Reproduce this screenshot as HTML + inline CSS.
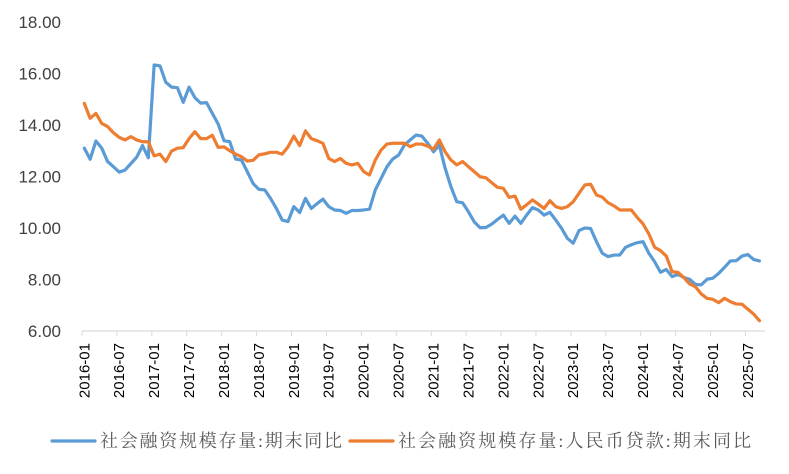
<!DOCTYPE html>
<html><head><meta charset="utf-8"><style>
body{margin:0;background:#fff;}
svg{display:block;font-family:"Liberation Sans","Noto Sans CJK SC",sans-serif;}
</style></head><body>
<svg id="chart" width="789" height="474" viewBox="0 0 789 474" xmlns="http://www.w3.org/2000/svg"></svg>
<script>
const yTicks=[6,8,10,12,14,16,18];
const startYear=2016;
const tsfGrowth=[13.1,12.67,13.38,13.1,12.58,12.38,12.17,12.25,12.5,12.75,13.2,12.73,16.33,16.3,15.66,15.47,15.45,14.88,15.47,15.06,14.85,14.87,14.45,14.04,13.39,13.35,12.68,12.64,12.19,11.73,11.5,11.48,11.15,10.76,10.31,10.25,10.83,10.6,11.15,10.76,10.95,11.12,10.83,10.7,10.68,10.57,10.68,10.68,10.7,10.73,11.48,11.93,12.38,12.68,12.83,13.22,13.42,13.61,13.57,13.29,12.96,13.22,12.32,11.6,11.02,10.98,10.63,10.24,10.01,10.02,10.15,10.33,10.5,10.18,10.46,10.18,10.5,10.79,10.7,10.5,10.61,10.31,9.99,9.6,9.41,9.9,10.0,9.98,9.47,9.02,8.89,8.95,8.95,9.25,9.35,9.43,9.47,9.02,8.69,8.28,8.39,8.11,8.2,8.08,8.01,7.81,7.79,8.01,8.05,8.24,8.47,8.72,8.73,8.91,8.97,8.78,8.72];
const loanGrowth=[14.84,14.26,14.45,14.06,13.94,13.7,13.52,13.42,13.55,13.42,13.35,13.35,12.8,12.87,12.58,12.99,13.1,13.12,13.47,13.74,13.47,13.47,13.6,13.13,13.15,13.0,12.87,12.77,12.6,12.63,12.84,12.88,12.94,12.94,12.87,13.15,13.57,13.2,13.77,13.47,13.39,13.29,12.7,12.58,12.7,12.51,12.45,12.51,12.19,12.06,12.64,13.03,13.26,13.29,13.29,13.29,13.16,13.26,13.26,13.18,13.06,13.42,12.96,12.64,12.45,12.58,12.38,12.19,11.99,11.95,11.76,11.58,11.54,11.19,11.24,10.73,10.9,11.09,10.93,10.76,11.06,10.83,10.76,10.83,11.02,11.35,11.67,11.7,11.28,11.2,10.98,10.86,10.7,10.7,10.7,10.41,10.16,9.77,9.25,9.12,8.91,8.3,8.28,8.08,7.83,7.72,7.44,7.27,7.23,7.1,7.27,7.14,7.05,7.04,6.85,6.66,6.4];
const seriesNames=["社会融资规模存量:期末同比","社会融资规模存量:人民币贷款:期末同比"];

const NS="http://www.w3.org/2000/svg";
const svg=document.getElementById('chart');
const x=i=>84.3+5.82*i;
const y=v=>331-(v-6)*25.75;
function mk(tag,attrs,parent){const e=document.createElementNS(NS,tag);for(const k in attrs)e.setAttribute(k,attrs[k]);(parent||svg).appendChild(e);return e;}

yTicks.forEach(t=>{
  const e=mk('text',{x:61,y:y(t)+6,'text-anchor':'end','font-size':'17','fill':'#404040'});
  
  
  e.textContent=t.toFixed(2);
});
const ax=mk('line',{x1:82,y1:331,x2:765,y2:331,stroke:'#d9d9d9','stroke-width':1.3});


const n=tsfGrowth.length;
for(let i=0;i<n;i+=6){
  const tx=82+5.82*i;
  const tk=mk('line',{x1:tx,y1:331,x2:tx,y2:336,stroke:'#d9d9d9','stroke-width':1});
  
  
  const yr=startYear+Math.floor(i/12), mo=(i%12)+1;
  const lx=x(i)+5;
  const e=mk('text',{x:lx,y:343,'text-anchor':'end','font-size':'15','fill':'#000',transform:`rotate(-90 ${lx} 343)`});
  
  
  e.textContent=yr+'-'+String(mo).padStart(2,'0');
}
function line(data,color,name){
  const p=mk('polyline',{points:data.map((v,i)=>x(i)+','+y(v)).join(' '),fill:'none',stroke:color,'stroke-width':3.2,'stroke-linejoin':'round','stroke-linecap':'round'});
  
  
}
line(tsfGrowth,'#5b9bd5','tsf-growth-line');
line(loanGrowth,'#ed7d31','loan-growth-line');

const legends=[[52,'#5b9bd5',242],[350,'#ed7d31',353]];
legends.forEach((l,k)=>{
  const g=mk('g',{});
  
  
  mk('line',{x1:l[0],y1:441,x2:l[0]+43,y2:441,stroke:l[1],'stroke-width':3.2,'stroke-linecap':'round'},g);
  const t=mk('text',{x:l[0]+48,y:447,'font-size':'18','fill':'#595959','font-family':'"Liberation Serif","Noto Serif CJK SC",serif',textLength:l[2],lengthAdjust:'spacing'},g);
  t.textContent=seriesNames[k];
});
</script>
</body></html>
